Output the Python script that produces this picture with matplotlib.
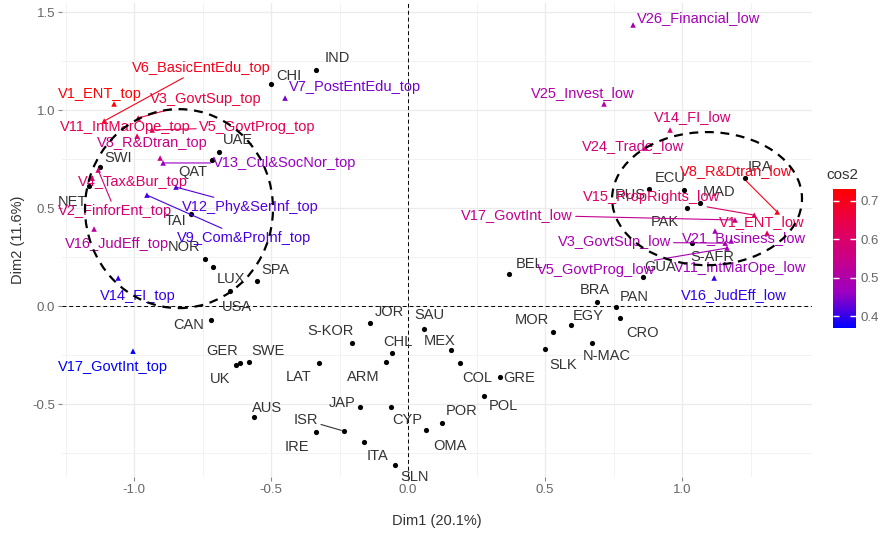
import matplotlib
matplotlib.use('Agg')
import matplotlib.pyplot as plt
from matplotlib.colors import LinearSegmentedColormap, Normalize
from matplotlib.patches import Ellipse
from matplotlib.ticker import MultipleLocator
import numpy as np

plt.rcParams['font.family'] = ['Liberation Sans', 'DejaVu Sans']

# ---------------- data ----------------
countries = ["IND", "CHI", "UAE", "QAT", "SWI", "NET", "TAI", "NOR", "LUX", "USA",
             "SPA", "CAN", "GER", "UK", "SWE", "S-KOR", "JOR", "SAU", "CHL", "ARM",
             "LAT", "MEX", "COL", "GRE", "POL", "POR", "OMA", "CYP", "JAP", "ISR",
             "IRE", "AUS", "ITA", "SLN", "BEL", "BRA", "PAN", "EGY", "MOR", "CRO",
             "SLK", "N-MAC", "ECU", "RUS", "MAD", "PAK", "IRA", "S-AFR", "GUA"]
country_dim1 = [-0.336, -0.500, -0.690, -0.715, -1.124, -1.164, -0.792, -0.741, -0.712, -0.650,
                -0.551, -0.719, -0.613, -0.628, -0.580, -0.204, -0.139, 0.058, -0.058, -0.080,
                -0.325, 0.157, 0.190, 0.336, 0.277, 0.124, 0.066, -0.062, -0.175, -0.234,
                -0.336, -0.562, -0.161, -0.047, 0.369, 0.690, 0.759, 0.595, 0.529, 0.774,
                0.500, 0.672, 1.007, 0.880, 1.066, 1.018, 1.230, 1.036, 0.858]
country_dim2 = [1.204, 1.133, 0.786, 0.745, 0.709, 0.612, 0.469, 0.240, 0.199, 0.077,
                0.128, -0.071, -0.291, -0.301, -0.286, -0.189, -0.087, -0.117, -0.240, -0.286,
                -0.291, -0.224, -0.291, -0.362, -0.459, -0.597, -0.633, -0.515, -0.515, -0.638,
                -0.643, -0.566, -0.694, -0.811, 0.163, 0.020, -0.005, -0.097, -0.133, -0.061,
                -0.219, -0.189, 0.592, 0.597, 0.526, 0.500, 0.653, 0.321, 0.148]

variables = ["V1_ENT_top", "V6_BasicEntEdu_top", "V3_GovtSup_top", "V11_IntMarOpe_top",
             "V5_GovtProg_top", "V8_R&Dtran_top", "V13_Cul&SocNor_top", "V4_Tax&Bur_top",
             "V2_FinforEnt_top", "V16_JudEff_top", "V14_FI_top", "V9_Com&ProInf_top",
             "V12_Phy&SerInf_top", "V17_GovtInt_top", "V7_PostEntEdu_top",
             "V26_Financial_low", "V25_Invest_low", "V14_FI_low", "V24_Trade_low",
             "V8_R&Dtran_low", "V15_PropRights_low", "V1_ENT_low", "V17_GovtInt_low",
             "V21_Business_low", "V3_GovtSup_low", "V5_GovtProg_low", "V11_IntMarOpe_low",
             "V16_JudEff_low"]
var_dim1 = [-1.073, -1.109, -0.985, -0.989, -0.934, -0.905, -0.894, -1.153,
            -1.131, -1.146, -1.058, -0.953, -0.847, -1.004, -0.449,
            0.821, 0.715, 0.956, 0.865, 1.347, 1.263, 1.310, 1.193,
            1.120, 1.157, 1.164, 1.179, 1.117]
var_dim2 = [1.031, 0.944, 0.959, 0.867, 0.898, 0.755, 0.730, 0.653,
            0.694, 0.393, 0.143, 0.566, 0.607, -0.230, 1.061,
            1.434, 1.031, 0.898, 0.806, 0.480, 0.464, 0.372, 0.439,
            0.383, 0.321, 0.296, 0.332, 0.143]
var_cos2 = [0.73, 0.70, 0.66, 0.64, 0.63, 0.55, 0.46, 0.60,
            0.58, 0.52, 0.40, 0.41, 0.42, 0.37, 0.44,
            0.48, 0.50, 0.59, 0.57, 0.70, 0.61, 0.64, 0.54,
            0.48, 0.49, 0.48, 0.47, 0.40]

x_ticks = [-1.0, -0.5, 0.0, 0.5, 1.0]
y_ticks = [-0.5, 0.0, 0.5, 1.0, 1.5]
cbar_ticks = [0.4, 0.5, 0.6, 0.7]

# ---------------- layout (label offsets in pixels) ----------------
country_offsets = [(21, 12), (18, 8), (19, 12), (-19, -12), (18, 9), (-17, -16), (-16, -7),
                   (-21, 12), (18, -12), (7, -16), (18, 11), (-22, -5), (-18, 12), (-16, -14),
                   (19, 11), (-22, 12), (19, 11), (5, 14), (6, 11), (-23, -15), (-20, -14),
                   (-11, 9), (17, -15), (19, -1), (19, -10), (20, 12), (24, -16), (16, -13),
                   (-18, 4), (-38, 11), (-19, -15), (13, 9), (14, -14), (19, -12), (20, 10),
                   (-2, 12), (18, 10), (17, 9), (-21, 12), (22, -15), (18, -16), (15, -13),
                   (-14, 12), (-19, -6), (19, 11), (-22, -14), (15, 11), (20, -14), (17, 10)]
country_segment = ["ISR"]

var_offsets = [(-14, 10), (97, 53), (68, 19), (-12, 9), (105, 3), (-8, 15), (122, 0), (41, -4),
               (17, -41), (23, -15), (20, -18), (97, -43), (74, -20), (-20, -16), (70, 11),
               (66, 7), (-21, 11), (23, 13), (-12, 2), (-41, 41), (-103, 18), (-5, 11),
               (-218, 5), (29, -7), (-111, 1), (-131, -22), (9, -27), (20, -17)]
var_segment = ["V6_BasicEntEdu_top", "V3_GovtSup_top", "V5_GovtProg_top", "V13_Cul&SocNor_top",
               "V2_FinforEnt_top", "V9_Com&ProInf_top", "V12_Phy&SerInf_top",
               "V8_R&Dtran_low", "V15_PropRights_low", "V17_GovtInt_low",
               "V3_GovtSup_low", "V5_GovtProg_low"]

# ---------------- figure ----------------
W, H = 881, 533
fig = plt.figure(figsize=(W / 100, H / 100), dpi=100)
fig.patch.set_facecolor('white')
ax = fig.add_axes([62 / W, 56 / H, 750 / W, 474 / H])
ax.set_xlim(-1.263, 1.474)
ax.set_ylim(-0.872, 1.546)

for s in ax.spines.values():
    s.set_visible(False)
ax.xaxis.set_minor_locator(MultipleLocator(0.25))
ax.yaxis.set_minor_locator(MultipleLocator(0.25))
ax.set_xticks(x_ticks)
ax.set_yticks(y_ticks)
ax.set_xticklabels([f"{v:.1f}" for v in x_ticks])
ax.set_yticklabels([f"{v:.1f}" for v in y_ticks])
ax.grid(which='major', color='#EBEBEB', lw=0.9, zorder=0)
ax.grid(which='minor', color='#F2F2F2', lw=0.7, zorder=0)
ax.set_axisbelow(True)
ax.tick_params(which='major', length=3, color='#888888', labelcolor='#666666', labelsize=9.5, pad=2)
ax.tick_params(which='minor', length=0)
ax.set_xlabel("Dim1 (20.1%)", fontsize=10.5, color='#333333', labelpad=13)
ax.set_ylabel("Dim2 (11.6%)", fontsize=10.5, color='#333333', labelpad=5)

ax.axhline(0, color='black', lw=0.7, ls=(0, (4, 3)), zorder=1)
ax.axvline(0, color='black', lw=0.7, ls=(0, (4, 3)), zorder=1)

cmap = LinearSegmentedColormap.from_list('cos2', ['#0000FF', '#9A00C3', '#C90088', '#E8004F', '#FF0000'])
norm = Normalize(vmin=min(var_cos2), vmax=max(var_cos2))

# countries
ax.scatter(country_dim1, country_dim2, s=14, color='black', zorder=4, linewidths=0)
for name, x, y, (dx, dy) in zip(countries, country_dim1, country_dim2, country_offsets):
    arrow = dict(arrowstyle='-', color='#333333', lw=0.8, shrinkA=0, shrinkB=2) if name in country_segment else None
    ax.annotate(name, (x, y), xytext=(dx, dy), textcoords='offset pixels',
                ha='center', va='center', fontsize=10.5, color='#333333',
                arrowprops=arrow, zorder=5)

# variables
var_colors = [cmap(norm(c)) for c in var_cos2]
ax.scatter(var_dim1, var_dim2, s=16, marker='^', c=var_colors, zorder=4, linewidths=0)
for name, x, y, (dx, dy), col in zip(variables, var_dim1, var_dim2, var_offsets, var_colors):
    arrow = dict(arrowstyle='-', color=col, lw=0.8, shrinkA=0, shrinkB=1) if name in var_segment else None
    ax.annotate(name, (x, y), xytext=(dx, dy), textcoords='offset pixels',
                ha='center', va='center', fontsize=10.5, color=col,
                arrowprops=arrow, zorder=5)

# dashed ellipses highlighting the clusters
left_group = dict(center=(-0.836, 0.497), width=0.686, height=1.015)
right_group = dict(center=(1.091, 0.548), width=0.693, height=0.679)
for g in (left_group, right_group):
    ax.add_patch(Ellipse(g['center'], g['width'], g['height'], fill=False,
                         ec='black', lw=1.6, ls=(0, (4, 3)), zorder=6))

# colorbar
cax = fig.add_axes([833 / W, (H - 328) / H, 23 / W, 139 / H])
sm = plt.cm.ScalarMappable(norm=norm, cmap=cmap)
cb = fig.colorbar(sm, cax=cax, ticks=cbar_ticks)
cb.outline.set_visible(False)
cb.ax.tick_params(color='white', length=4, width=1, direction='in', left=True, right=True,
                  labelcolor='#666666', labelsize=9.5, pad=3)
cb.ax.set_yticklabels([f"{v:.1f}" for v in cbar_ticks])
fig.text(842 / W, 1 - 175 / H, "cos2", fontsize=11, color='#333333', ha='center', va='center')

fig.savefig('out.png', dpi=100)
